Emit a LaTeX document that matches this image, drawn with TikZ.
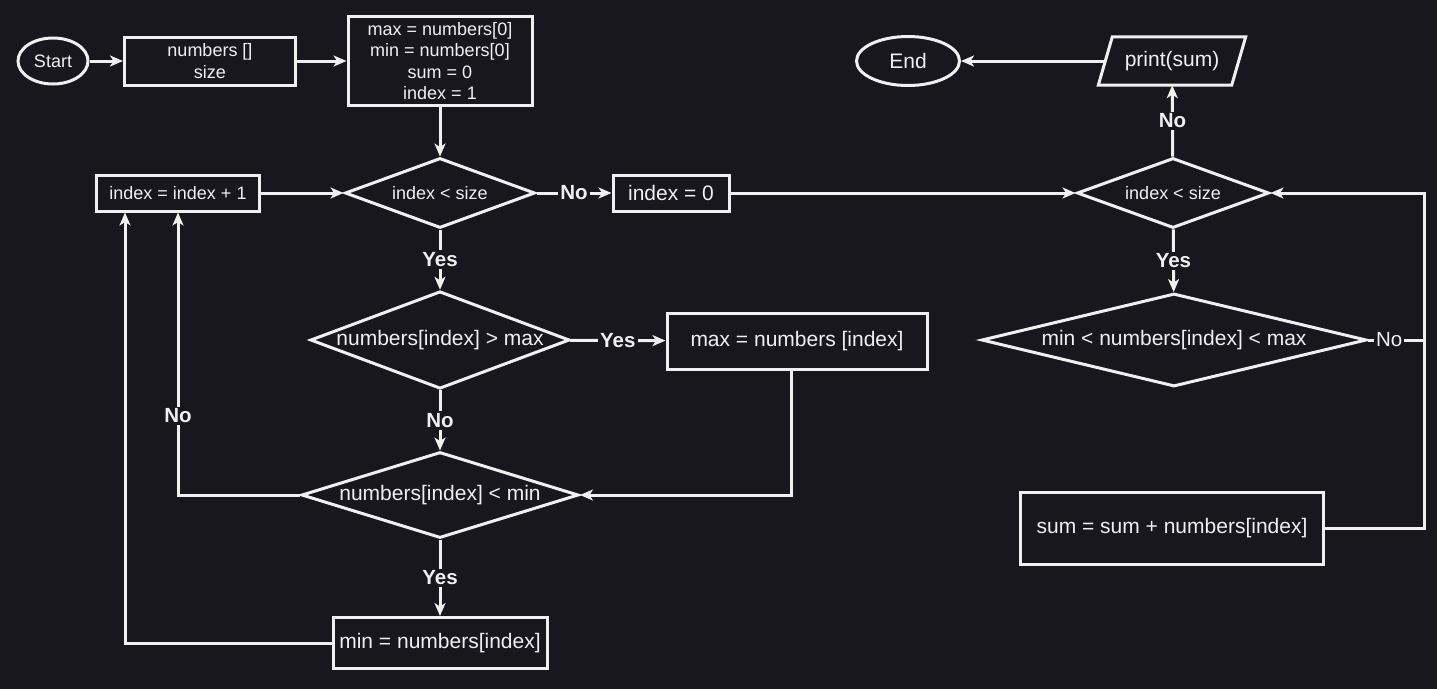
\documentclass[tikz,border=0pt]{standalone}
\usepackage{fontspec}
\setmainfont{Liberation Sans}
\usetikzlibrary{shapes.geometric,arrows.meta}
\definecolor{bg}{RGB}{25,23,30}
\definecolor{fg}{RGB}{240,240,240}
\begin{document}
\begin{tikzpicture}[x=1pt,y=-1pt,
  line/.style={draw=fg,line width=3pt},
  arr/.style={line,-{Stealth[length=13pt,width=11pt,inset=3.5pt]}},
  box/.style={line,rectangle,inner sep=0pt,text=fg,align=center},
  term/.style={line,ellipse,inner sep=0pt,text=fg},
  dia/.style={line,diamond,inner sep=0pt,text=fg},
  small/.style={font=\fontsize{18}{21.5}\selectfont},
  big/.style={font=\fontsize{21}{25}\selectfont},
  lab/.style={fill=bg,text=fg,inner sep=2pt,font=\fontsize{20.5}{24}\selectfont\bfseries},
  labr/.style={fill=bg,text=fg,inner sep=2pt,font=\fontsize{20.5}{24}\selectfont}]
\fill[bg] (0,0) rectangle (1437,689);
\useasboundingbox (0,0) rectangle (1437,689);
% nodes
\node[term,small,minimum width=70pt,minimum height=46pt] (start) at (53,61) {Start};
\node[box,small,minimum width=171pt,minimum height=48pt] (nums) at (210,61) {numbers []\\size};
\node[box,small,minimum width=184pt,minimum height=89pt] (init) at (440,61) {max = numbers[0]\\min = numbers[0]\\sum = 0\\index = 1};
\node[box,small,minimum width=163pt,minimum height=36pt] (inc) at (178,193) {index = index + 1};
\node[dia,small,aspect=2.7,minimum width=190pt,minimum height=70pt] (d1) at (440,193) {index < size};
\node[box,big,minimum width=116pt,minimum height=36pt] (zero) at (671,193) {index = 0};
\node[dia,small,aspect=2.7,minimum width=192pt,minimum height=70pt] (d4) at (1173,193) {index < size};
\node[big,minimum width=147pt,minimum height=48pt,inner sep=0pt,text=fg] (print) at (1172,61) {print(sum)};
\draw[line,line join=miter] ([xshift=14pt]print.north west) -- (print.north east) -- ([xshift=-14pt]print.south east) -- (print.south west) -- cycle;
\node[term,big,minimum width=103pt,minimum height=49pt] (endn) at (908,61) {End};
\node[dia,big,aspect=2.66,minimum width=258pt,minimum height=97pt] (d2) at (440,340) {numbers[index] > max};
\node[box,big,minimum width=260pt,minimum height=56pt] (maxb) at (797,341) {max = numbers [index]};
\node[dia,big,aspect=3.22,minimum width=277pt,minimum height=86pt] (d3) at (440,495) {numbers[index] < min};
\node[box,big,minimum width=214pt,minimum height=51pt] (minb) at (440,643) {min = numbers[index]};
\node[dia,big,aspect=4.14,minimum width=385pt,minimum height=93pt] (d5) at (1174,340) {min < numbers[index] < max};
\node[box,big,minimum width=303pt,minimum height=72pt] (sumb) at (1172,528) {sum = sum + numbers[index]};
\coordinate (rc) at (1424,340);
% connectors
\draw[arr] (start) -- (nums);
\draw[arr] (nums) -- (init);
\draw[arr] (init) -- (d1);
\draw[arr] (inc) -- (d1);
\draw[arr] (d1) -- node[lab]{No} (zero);
\draw[arr] (zero) -- (d4);
\draw[arr] (d1) -- node[lab]{Yes} (d2);
\draw[arr] (d2) -- node[lab]{Yes} (maxb);
\draw[arr] (d2) -- node[lab]{No} (d3);
\draw[arr] ([xshift=-6pt]maxb.south) |- (d3.east);
\draw[arr] (d3.west) -| node[lab,pos=0.64]{No} (inc.south);
\draw[arr] (d3) -- node[lab]{Yes} (minb);
\draw[arr] (minb.west) -| ([xshift=-53pt]inc.south);
\draw[arr] (d4) -- node[lab]{Yes} (d5);
\draw[arr] (d4) -- node[lab]{No} (print);
\draw[arr] ([xshift=7pt]print.west) -- (endn);
\draw[arr] (d5.east) -- node[labr,pos=0.38]{No} (rc) |- (d4.east);
\draw[line] (sumb.east) -| (rc);
\end{tikzpicture}
\end{document}
